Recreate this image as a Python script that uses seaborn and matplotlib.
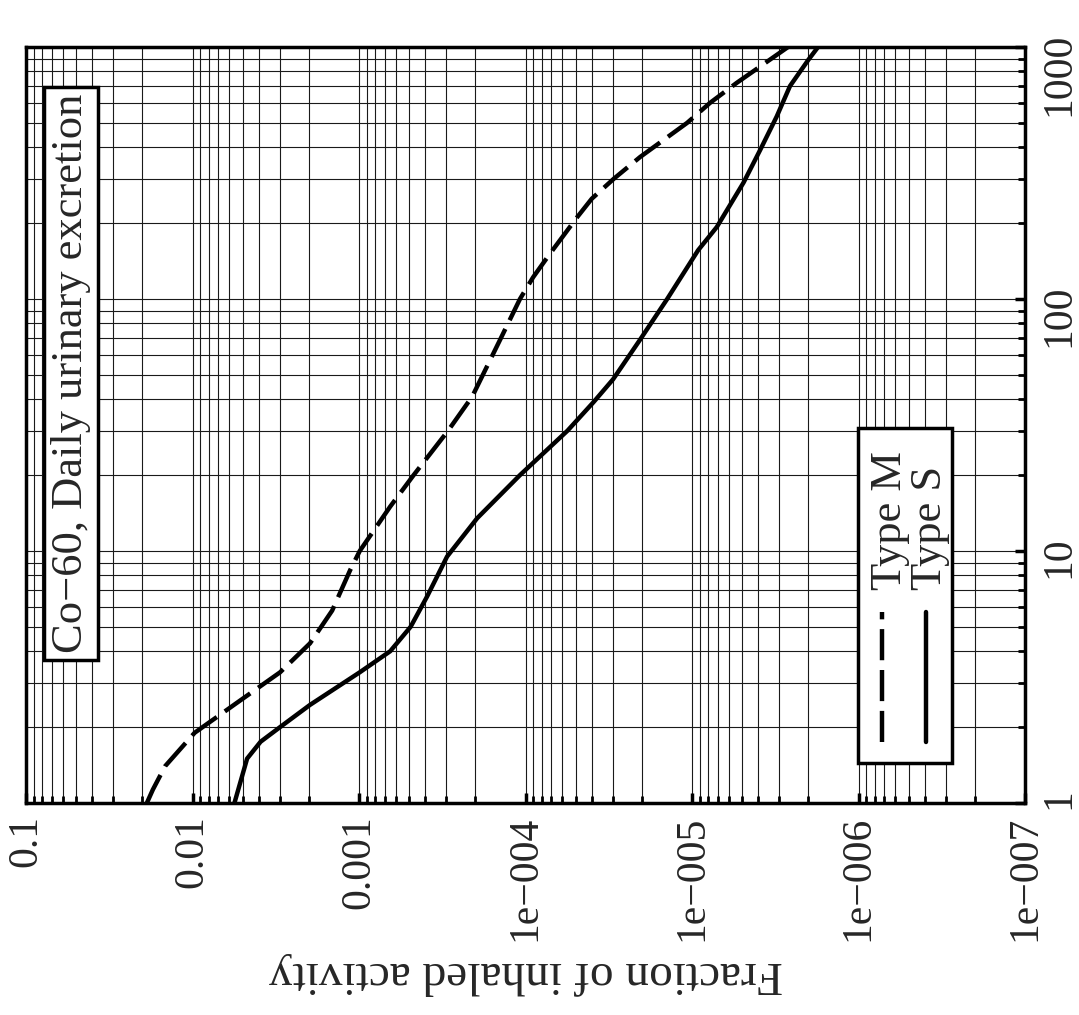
import matplotlib
matplotlib.use("Agg")
import matplotlib.pyplot as plt
import numpy as np
import pandas as pd
import seaborn as sns
from matplotlib.patches import Rectangle
from matplotlib.ticker import FixedLocator, FixedFormatter, LogLocator, NullFormatter

days_m = [1.0, 1.13, 1.4, 1.9, 2.5, 3.3, 4.3, 5.8, 8.4, 10, 15, 20, 30, 41, 69,
          100, 122, 150, 211, 250, 300, 366, 500, 600, 720, 1000]
frac_m = [1.88e-2, 1.73e-2, 1.46e-2, 9.7e-3, 5.4e-3, 2.98e-3, 1.97e-3, 1.45e-3,
          1.13e-3, 9.9e-4, 6.5e-4, 4.7e-4, 2.92e-4, 2.09e-4, 1.42e-4, 1.08e-4,
          9.0e-5, 7.2e-5, 4.9e-5, 4.0e-5, 2.95e-5, 2.05e-5, 1.07e-5, 7.8e-6,
          5.4e-6, 2.65e-6]

days_s = [1.0, 1.5, 1.75, 2.0, 2.45, 3.3, 4.0, 5.0, 6.6, 9.5, 13.5, 20, 30, 39,
          48, 69, 100, 156, 193, 290, 390, 530, 700, 890, 1000]
frac_s = [5.6e-3, 4.7e-3, 3.9e-3, 2.98e-3, 1.97e-3, 9.9e-4, 6.5e-4, 4.9e-4,
          3.9e-4, 2.96e-4, 1.95e-4, 1.08e-4, 5.6e-5, 3.9e-5, 2.98e-5, 2.05e-5,
          1.41e-5, 9.2e-6, 7.1e-6, 4.9e-6, 3.9e-6, 3.1e-6, 2.58e-6, 2.0e-6, 1.75e-6]

frac_ticks = [1e-1, 1e-2, 1e-3, 1e-4, 1e-5, 1e-6, 1e-7]
frac_labels = ["0.1", "0.01", "0.001", "1e\u2212004", "1e\u2212005", "1e\u2212006", "1e\u2212007"]
day_ticks = [1, 10, 100, 1000]
day_labels = ["1", "10", "100", "1000"]

title = "Co\u221260, Daily urinary excretion"
frac_label = "Fraction of inhaled activity"
series = ["Type M", "Type S"]

df = pd.concat([
    pd.DataFrame({"days": days_m, "fraction": frac_m, "type": series[0]}),
    pd.DataFrame({"days": days_s, "fraction": frac_s, "type": series[1]}),
])

sns.set_style("white")
plt.rcParams['font.family'] = ['Liberation Serif', 'DejaVu Serif']

fig = plt.figure(figsize=(10.79, 10.15), dpi=100)
ax = fig.add_axes([0.0241, 0.2089, 0.9259, 0.7448])

dash_m = (7, 2.2)
sns.lineplot(data=df, x="fraction", y="days", style="type",
             dashes={series[0]: dash_m, series[1]: ""}, color="black",
             linewidth=3.2, orient="y", estimator=None, legend=False, ax=ax,
             zorder=4, solid_joinstyle="round", dash_joinstyle="round")

ax.set_xscale("log")
ax.set_yscale("log")
ax.set_xlim(1e-1, 1e-7)
ax.set_ylim(1, 1000)

ax.xaxis.set_major_locator(FixedLocator(frac_ticks))
ax.xaxis.set_major_formatter(FixedFormatter(frac_labels))
ax.xaxis.set_minor_locator(LogLocator(base=10, subs=np.arange(2, 10)))
ax.xaxis.set_minor_formatter(NullFormatter())
ax.yaxis.set_major_locator(FixedLocator(day_ticks))
ax.yaxis.set_major_formatter(FixedFormatter(day_labels))
ax.yaxis.set_minor_locator(LogLocator(base=10, subs=np.arange(2, 10)))
ax.yaxis.set_minor_formatter(NullFormatter())

ax.tick_params(axis="x", which="both", bottom=True, top=False, direction="in",
               labelrotation=90, labelsize=30, pad=9)
ax.tick_params(axis="y", which="both", left=False, right=True, labelleft=False,
               labelright=True, direction="in", labelrotation=90, labelsize=30, pad=11)
ax.tick_params(which="major", length=7, width=2.5, color="black")
ax.tick_params(which="minor", length=5, width=2, color="black")

ax.grid(True, which="both", color="#1a1a1a", linewidth=0.8)
for sp in ax.spines.values():
    sp.set_linewidth(2.5)
    sp.set_color("black")

ax.set_xlabel(frac_label, rotation=180, fontsize=34, labelpad=8)
ax.set_ylabel("")

# title box (rotated page)
ax.text(0.045, 0.198, title, rotation=90, ha="center", va="bottom",
        fontsize=32, transform=ax.transAxes, zorder=6,
        bbox=dict(boxstyle="square,pad=0.15", facecolor="white",
                  edgecolor="black", linewidth=2.5))

# legend box, drawn by hand because it is rotated
ax.add_patch(Rectangle((0.833, 0.053), 0.094, 0.443, transform=ax.transAxes,
                       facecolor="white", edgecolor="black", linewidth=2.5, zorder=5))
ax.plot([0.857, 0.857], [0.081, 0.253], transform=ax.transAxes, color="black",
        linewidth=3.2, dashes=dash_m, zorder=6)
ax.plot([0.901, 0.901], [0.081, 0.253], transform=ax.transAxes, color="black",
        linewidth=3.2, zorder=6)
ax.text(0.865, 0.282, series[0], rotation=90, ha="center", va="bottom",
        fontsize=32, transform=ax.transAxes, zorder=6)
ax.text(0.905, 0.282, series[1], rotation=90, ha="center", va="bottom",
        fontsize=32, transform=ax.transAxes, zorder=6)

fig.savefig("out.png", dpi=100)
